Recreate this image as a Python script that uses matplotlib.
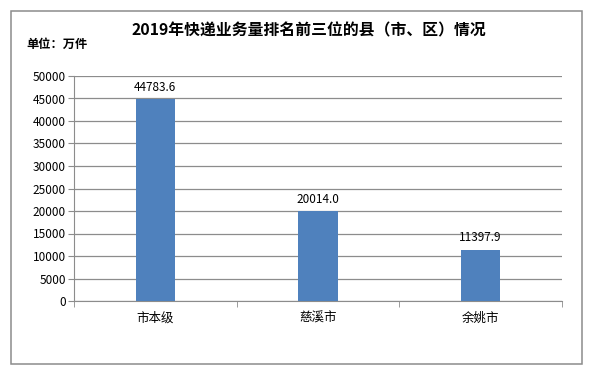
import matplotlib
matplotlib.use("Agg")
import matplotlib.pyplot as plt
from matplotlib.patches import Rectangle

plt.rcParams['font.family'] = ['Noto Sans CJK SC', 'DejaVu Sans']

categories = ["市本级", "慈溪市", "余姚市"]
values = [44783.6, 20014.0, 11397.9]
labels = ["44783.6", "20014.0", "11397.9"]
yticks = [0, 5000, 10000, 15000, 20000, 25000, 30000, 35000, 40000, 45000, 50000]
title = "2019年快递业务量排名前三位的县（市、区）情况"
unit = "单位：万件"

fig = plt.figure(figsize=(5.99, 3.86), dpi=100)
fig.patch.set_facecolor("white")

# outer border
fig.patches.append(Rectangle((10.5/599, 1-363.5/386), 571/599, 353/386, transform=fig.transFigure,
                             facecolor="white", edgecolor="#8c8c8c", linewidth=1.1, zorder=1))

ax = fig.add_axes([74/599, 1-301/386, 488/599, 225/386])
ax.set_zorder(2)
ax.patch.set_alpha(0)
x = list(range(len(categories)))
ax.bar(x, values, width=0.24, color="#4F81BD", zorder=3)
for xi, v, lab in zip(x, values, labels):
    ax.text(xi, v + 1200, lab, ha="center", va="bottom", fontsize=8.5, color="black")

ax.set_xlim(-0.5, 2.5)
ax.set_ylim(0, 50000)
ax.set_yticks(yticks)
ax.set_yticklabels([str(t) for t in yticks], fontsize=8.5)
ax.set_xticks(x)
ax.set_xticklabels(categories, fontsize=9)
ax.set_xticks([-0.5, 0.5, 1.5, 2.5], minor=True)
ax.tick_params(axis="x", which="major", length=0, pad=8)
ax.tick_params(axis="x", which="minor", length=4, color="#8c8c8c", direction="out")
ax.tick_params(axis="y", length=4, color="#8c8c8c", direction="out", pad=2)
ax.grid(axis="y", color="#8c8c8c", linewidth=0.9, zorder=0)
for s in ["top", "right"]:
    ax.spines[s].set_visible(False)
for s in ["left", "bottom"]:
    ax.spines[s].set_color("#8c8c8c")

fig.text(309/599, 1-30/386, title, ha="center", va="center", fontsize=11.4, fontweight="bold")
fig.text(26/599, 1-44/386, unit, ha="left", va="center", fontsize=8.8, fontweight="bold")

fig.savefig("out.png", dpi=100)
